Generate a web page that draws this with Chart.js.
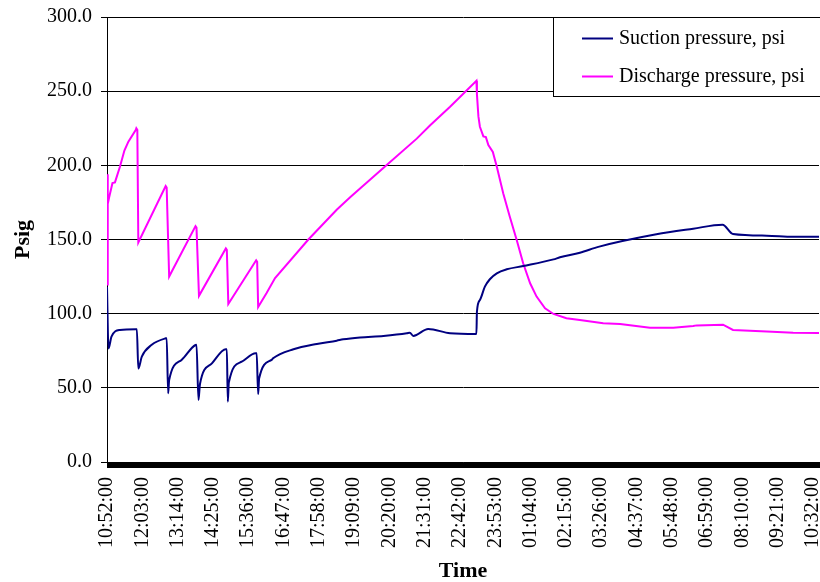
<!DOCTYPE html>
<html><head><meta charset="utf-8">
<script src="https://cdn.jsdelivr.net/npm/chart.js@4.4.1/dist/chart.umd.min.js"></script>
<style>html,body{margin:0;padding:0;background:#fff;}canvas{display:block;}</style>
</head><body>
<canvas id="c" width="820" height="582"></canvas>
<script>
// ---- data (minutes elapsed since 10:52:00, one category per minute) ----
const tickLabels = ["10:52:00","12:03:00","13:14:00","14:25:00","15:36:00","16:47:00","17:58:00","19:09:00","20:20:00","21:31:00","22:42:00","23:53:00","01:04:00","02:15:00","03:26:00","04:37:00","05:48:00","06:59:00","08:10:00","09:21:00","10:32:00"];
const labelEveryMinutes = 71;
const lastMinute = 1432;
const seriesNames = ["Suction pressure, psi","Discharge pressure, psi"];

const suctionMinutes = [0,3,9,26,58,60,63,70,90,118,120,123,125,150,178,180,184,187,211,239,241,243,245,271,299,301,304,306,331,334,375,422,462,475,509,556,603,609,616,646,690,743,744,750,760,770,784,804,837,898,911,951,990,1105,1179,1238,1259,1327,1380,1432];
const suctionValues  = [118,76.5,84.5,89,89.5,89.5,63,71,79,83.4,83.5,46.3,55.3,68.8,78.9,79,41.8,52.6,66.5,76,76,40.7,53.5,67.6,73.3,73.3,45.8,56.4,68.8,69.9,76,79.6,81.8,82.7,84,85,86.8,87.2,85,89.7,86.8,86.3,101.3,109.2,118.2,123.2,127.2,129.9,132.1,136.6,138,141.1,145.2,153.5,157.3,160,153.7,152.6,151.9,151.9];

const dischargeMinutes = [0,1,2,4,11,16,26,35,43,58,59,61,63,118,120,125,178,180,185,239,241,244,300,302,304,321,338,405,462,489,562,623,650,690,743,744,747,750,757,762,767,776,784,797,810,824,837,851,864,881,898,924,951,998,1032,1092,1139,1179,1186,1239,1259,1327,1380,1432];
const dischargeValues  = [194,119,174,178,188,188.5,199,210,216,224,225,224,148,186,185,125,159,158,112,144,143,106.5,136,135,104.5,114,124,150,170,178.5,200,218,227,239.5,257,248,233,226,219.5,219,213.7,209,199,181,165.5,149.7,134,120.5,111.5,103.6,99.8,96.9,95.7,93.5,93,90.5,90.5,91.7,92.1,92.6,89,87.9,87.2,87];

const yMin = 0, yMax = 300, yStep = 50;

// ---- chart ----
const FONT = '"Liberation Serif", "Times New Roman", serif';
const toPoints = (xs, ys) => xs.map((m, i) => ({x: m, y: ys[i]}));

const boxLegend = {
  id: 'boxLegend',
  afterDraw(chart) {
    const ctx = chart.ctx;
    ctx.save();
    const x0 = 553.5, y0 = 17.5, x1 = 835, y1 = 96.5;
    ctx.fillStyle = '#fff';
    ctx.fillRect(x0, y0, x1 - x0, y1 - y0);
    ctx.strokeStyle = '#000';
    ctx.lineWidth = 1;
    ctx.strokeRect(x0, y0, x1 - x0, y1 - y0);
    chart.data.datasets.forEach((ds, i) => {
      const y = 38.5 + i * 38;
      ctx.strokeStyle = ds.borderColor;
      ctx.lineWidth = 2;
      ctx.beginPath(); ctx.moveTo(582, y); ctx.lineTo(613, y); ctx.stroke();
      ctx.fillStyle = '#000';
      ctx.font = '20px ' + FONT;
      ctx.textBaseline = 'middle';
      ctx.textAlign = 'left';
      ctx.fillText(ds.label, 619, y);
    });
    ctx.restore();
  }
};

new Chart(document.getElementById('c'), {
  type: 'line',
  data: {
    datasets: [
      {label: seriesNames[0], data: toPoints(suctionMinutes, suctionValues), borderColor: '#000080', backgroundColor: '#000080', borderWidth: 2, pointRadius: 0, cubicInterpolationMode: 'monotone', fill: false},
      {label: seriesNames[1], data: toPoints(dischargeMinutes, dischargeValues), borderColor: '#FF00FF', backgroundColor: '#FF00FF', borderWidth: 2, pointRadius: 0, tension: 0, fill: false}
    ]
  },
  options: {
    responsive: false,
    devicePixelRatio: 1,
    animation: false,
    events: [],
    layout: {padding: {left: 0, top: 17, right: 1, bottom: 0}},
    plugins: {legend: {display: false}, tooltip: {enabled: false}},
    scales: {
      x: {
        type: 'linear',
        min: 0,
        max: lastMinute,
        afterBuildTicks(scale) {
          const t = [];
          for (let m = 0; m <= lastMinute; m++) t.push({value: m});
          scale.ticks = t;
        },
        afterFit(scale) { scale.height = 120; scale.paddingLeft = 0; scale.paddingRight = 0; },
        ticks: {
          autoSkip: false,
          maxRotation: 90,
          minRotation: 90,
          padding: 9,
          color: '#000',
          font: {family: FONT, size: 20},
          callback: (v) => (v % labelEveryMinutes === 0 && tickLabels[v / labelEveryMinutes] !== undefined) ? tickLabels[v / labelEveryMinutes] : ''
        },
        grid: {drawOnChartArea: false, drawTicks: true, tickLength: 6, color: '#000', lineWidth: 1},
        border: {display: true, color: '#000', width: 1},
        title: {display: true, text: 'Time', color: '#000', font: {family: FONT, size: 22, weight: 'bold', lineHeight: 1}, padding: {top: 0, bottom: 0}}
      },
      y: {
        min: yMin,
        max: yMax,
        afterFit(scale) { scale.width = 107; scale.paddingTop = 0; scale.paddingBottom = 0; },
        ticks: {
          stepSize: yStep,
          padding: 9,
          color: '#000',
          font: {family: FONT, size: 20},
          callback: (v) => Number(v).toFixed(1)
        },
        grid: {color: '#000', lineWidth: 1, tickLength: 6, drawTicks: true},
        border: {display: true, color: '#000', width: 1},
        title: {display: true, text: 'Psig', color: '#000', font: {family: FONT, size: 22, weight: 'bold'}, padding: {top: 10, bottom: 0}}
      }
    }
  },
  plugins: [boxLegend]
});
</script>
</body></html>
